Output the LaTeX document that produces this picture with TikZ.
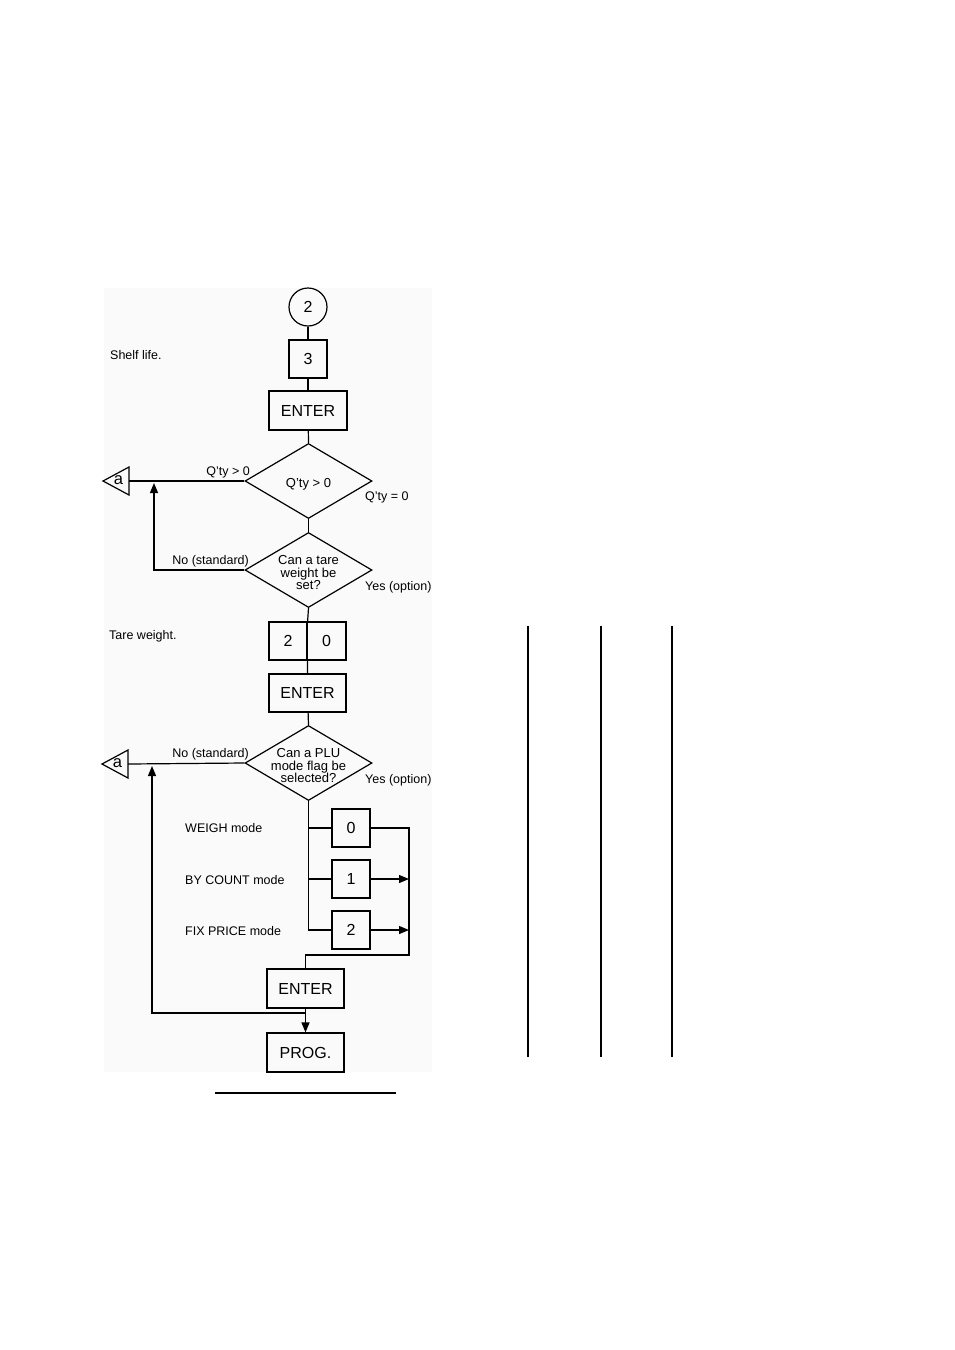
\documentclass[tikz,border=0pt]{standalone}
\usepackage{fontspec}
\setmainfont{Liberation Sans}
\usetikzlibrary{arrows.meta,shapes.geometric}
\begin{document}
\begin{tikzpicture}[x=1pt,y=-1pt,
  ln/.style={line width=1.2pt},
  keybox/.style={draw,line width=1.2pt,inner sep=0pt,font=\fontsize{16}{16}\selectfont},
  dec/.style={draw,diamond,line width=1.2pt,minimum width=127pt,minimum height=75pt,inner sep=0pt},
  lbl/.style={font=\fontsize{12.5}{12.5}\selectfont,inner sep=0pt},
  dlbl/.style={font=\fontsize{13}{12.5}\selectfont,inner sep=0pt,align=center,yshift=-3pt},
  arr/.style={-{Triangle[length=10pt,width=8pt]}},
  tri/.style={draw,line width=1.2pt,line join=miter},
]
\useasboundingbox (0,0) rectangle (954,1350);
\fill[black!2] (104,288) rectangle (432,1072);

% top chain
\node[keybox,circle,minimum size=38pt] (c2) at (308,307) {2};
\node[keybox,minimum width=38pt,minimum height=38pt] (k3) at (308,359) {3};
\node[keybox,minimum width=78pt,minimum height=39pt] (e1) at (308,410.5) {ENTER};
\node[dec,label={[dlbl]center:Q'ty > 0}] (d1) at (308.5,481) {};
\node[dec,label={[dlbl]center:Can a tare\\weight be\\set?}] (d2) at (308.5,570) {};
\node[keybox,minimum width=38pt,minimum height=38pt] (b2) at (288,641) {2};
\node[keybox,minimum width=39pt,minimum height=38pt] (b0) at (326.5,641) {0};
\node[keybox,minimum width=77pt,minimum height=38pt] (e2) at (307.5,693) {ENTER};
\node[dec,label={[dlbl]center:Can a PLU\\mode flag be\\selected?}] (d3) at (308.5,763) {};
\node[keybox,minimum width=38pt,minimum height=38pt] (m0) at (351,828) {0};
\node[keybox,minimum width=38pt,minimum height=38pt] (m1) at (351,879) {1};
\node[keybox,minimum width=38pt,minimum height=38pt] (m2) at (351,930) {2};
\node[keybox,minimum width=77pt,minimum height=39pt] (e3) at (305.5,988.5) {ENTER};
\node[keybox,minimum width=77pt,minimum height=39pt] (pr) at (305.5,1052.5) {PROG.};

% off-page connectors "a"
\node[font=\fontsize{16.5}{16.5}\selectfont,inner sep=0pt] (a1) at (118.5,480) {a};
\draw[tri] (129,467) -- (129,495) -- (103,481) -- cycle;
\coordinate (a1r) at (129,481);
\node[font=\fontsize{16.5}{16.5}\selectfont,inner sep=0pt] (a2) at (117.5,763) {a};
\draw[tri] (128,750) -- (128,778) -- (102,764) -- cycle;
\coordinate (a2r) at (128,764);

% side texts
\node[lbl,anchor=west] (t1) at (110,355) {Shelf life.};
\node[lbl,anchor=west] (t2) at (109,636) {Tare weight.};
\node[lbl,anchor=east] (q1) at (250,472) {Q'ty > 0};
\node[lbl,anchor=west] (q2) at (365,497) {Q'ty = 0};
\node[lbl,anchor=east] (n1) at (249,561) {No (standard)};
\node[lbl,anchor=west] (y1) at (365,587) {Yes (option)};
\node[lbl,anchor=east] (n2) at (249,754) {No (standard)};
\node[lbl,anchor=west] (y2) at (365,780) {Yes (option)};
\node[lbl,anchor=west] (w1) at (185,828) {WEIGH mode};
\node[lbl,anchor=west] (w2) at (185,880) {BY COUNT mode};
\node[lbl,anchor=west] (w3) at (185,931) {FIX PRICE mode};

% connectors
\draw[ln] (c2) -- (k3);
\draw[ln] (k3) -- (e1);
\draw[ln] (e1) -- (d1.north);
\draw[ln] (d1.south) -- (d2.north);
\draw[ln] (d2.south) -- (b2.north east);
\draw[ln] (b2.south east) -- (e2.north);
\draw[ln] (e2) -- (d3.north);
\draw[ln] (d1.west) -- (a1r);
\draw[ln] (d3.west) -- (a2r);
\coordinate (j1) at (154,483);
\draw[ln,arr] (d2.west) -| (j1);
\draw[ln] (d3.south) |- (m2.west);
\draw[ln] (m0.west) -- (m0.west -| d3.south);
\draw[ln] (m1.west) -- (m1.west -| d3.south);
\coordinate (rb) at (409,955);
\draw[ln] (m0.east) -| (rb) -| (e3.north);
\draw[ln,arr] (m1.east) -- (m1.east -| rb);
\draw[ln,arr] (m2.east) -- (m2.east -| rb);
\draw[ln,arr] (e3) -- (pr);
\coordinate (j3) at (305.5,1013);
\coordinate (j2) at (152,766);
\draw[ln,arr] (j3) -| (j2);

% rules
\coordinate (h1) at (215,1093);
\coordinate (h2) at (396,1093);
\draw[line width=1.2pt] (h1) -- (h2);
\foreach \x in {528,601,672}{
  \draw[line width=1.4pt] (\x,626) -- (\x,1057);
}
\end{tikzpicture}
\end{document}
